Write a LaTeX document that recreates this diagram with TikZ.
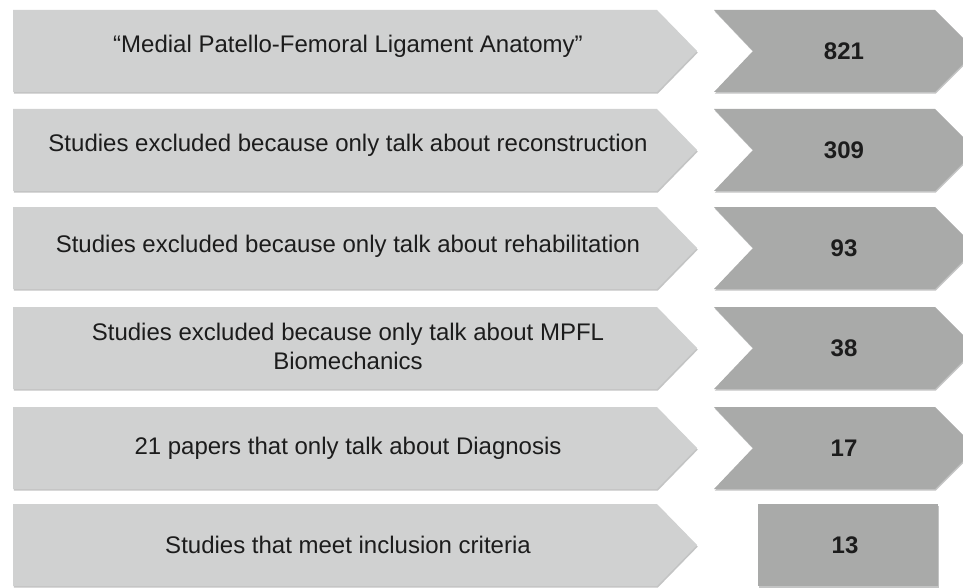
\documentclass[tikz,border=0pt]{standalone}
\usepackage{fontspec}
\setmainfont{Liberation Sans}
\definecolor{stepfill}{RGB}{208,209,209}
\definecolor{countfill}{RGB}{169,170,169}
\definecolor{edgeshade}{RGB}{180,181,181}
\definecolor{inktext}{RGB}{28,28,28}
\tikzset{
  steptext/.style={text=inktext, font=\fontsize{24}{29}\selectfont, align=center, inner sep=0pt},
  counttext/.style={text=inktext, font=\fontsize{24}{29}\selectfont\bfseries, inner sep=0pt},
  stepbody/.style={fill=stepfill, draw=none},
  countbody/.style={fill=countfill, draw=none},
  dropshade/.style={fill=edgeshade, draw=none, opacity=0.8}
}
\begin{document}
\begin{tikzpicture}[x=1pt, y=-1pt]
  \useasboundingbox (0,0) rectangle (963,588);
  \clip (0,0) rectangle (963,588);

  % rows 1-5: pointed step box on the left, chevron with the count on the right
  \foreach \i/\t/\dy/\txt/\num in {
      1/10/5/{“Medial Patello-Femoral Ligament Anatomy”}/821,
      2/109/5/{Studies excluded because only talk about reconstruction}/309,
      3/207/2/{Studies excluded because only talk about rehabilitation}/93,
      4/307/2/{Studies excluded because only talk about MPFL\\Biomechanics}/38,
      5/407/0/{21 papers that only talk about Diagnosis}/17} {
    % soft shadow under each shape
    \fill[dropshade, shift={(0.8,1.6)}]
      (13,\t) -- (657,\t) -- (697,\t+41) -- (657,\t+82) -- (13,\t+82) -- cycle;
    \fill[dropshade, shift={(0.8,1.6)}]
      (714,\t) -- (935,\t) -- (976,\t+41) -- (935,\t+82) -- (714,\t+82) -- (753,\t+41) -- cycle;
    % the shapes
    \fill[stepbody]
      (13,\t) -- (657,\t) -- (697,\t+41) -- (657,\t+82) -- (13,\t+82) -- cycle;
    \fill[countbody]
      (714,\t) -- (935,\t) -- (976,\t+41) -- (935,\t+82) -- (714,\t+82) -- (753,\t+41) -- cycle;
    % labels
    \node[steptext] (step\i) at (348,\t+41-\dy) {\txt};
    \node[counttext] (count\i) at (844,\t+41) {\num};
  }

  % final row: step box with a plain rectangle for the count
  \fill[dropshade, shift={(0.8,1.6)}]
    (13,504) -- (657,504) -- (697,545) -- (657,586) -- (13,586) -- cycle;
  \fill[dropshade, shift={(0.8,1.6)}] (758,504) rectangle (938,586);
  \fill[stepbody]
    (13,504) -- (657,504) -- (697,545) -- (657,586) -- (13,586) -- cycle;
  \fill[countbody] (758,504) rectangle (938,586);
  \node[steptext] (step6) at (348,545) {Studies that meet inclusion criteria};
  \node[counttext] (count6) at (845,545) {13};
\end{tikzpicture}
\end{document}
